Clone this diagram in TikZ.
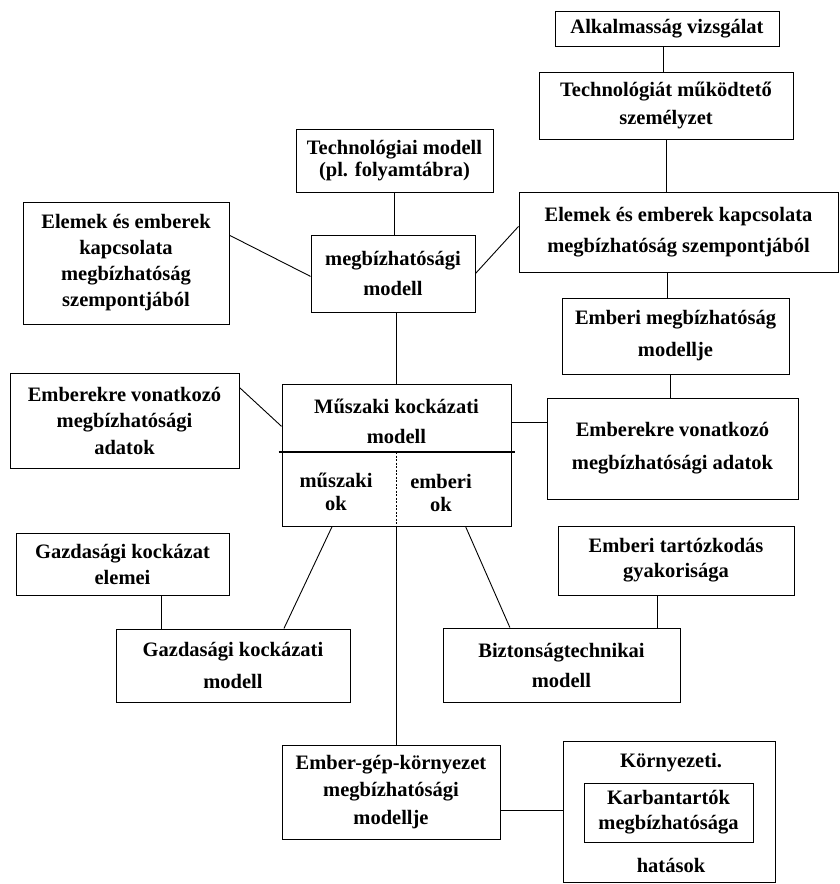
\documentclass[tikz,border=0pt]{standalone}
\usepackage{fontspec}
\setmainfont{Liberation Serif}
\usetikzlibrary{calc}

\tikzset{
    doboz/.style={draw, line width=1pt, inner sep=0pt, align=center,
        font=\bfseries\fontsize{20.5}{28}\selectfont},
    sorkoz/.style={font=\bfseries\fontsize{20.5}{#1}\selectfont},
    felirat/.style={inner sep=0pt, align=center},
    vonal/.style={line width=0.9pt}
}

\begin{document}
\begin{tikzpicture}[x=1pt,y=-1pt]
        \useasboundingbox (0,0) rectangle (840,884);

        % Upper boxes
        \node[doboz, minimum width=224, minimum height=35] (alk) at (667,28.5) {Alkalmasság vizsgálat};
        \node[doboz, minimum width=254, minimum height=67] (szem) at (666,105.5) {Technológiát működtető\\személyzet};
        \node[doboz, sorkoz=22, minimum width=197, minimum height=63] (techmod) at (394.5,160.5) {Technológiai modell\\(pl. folyamtábra)};
        \node[doboz, sorkoz=26, minimum width=206, minimum height=122] (elembal) at (126,263) {Elemek és emberek\\kapcsolata\\megbízhatóság\\szempontjából};
        \node[doboz, sorkoz=30, minimum width=164, minimum height=77] (megb) at (393,273.5) {megbízhatósági\\modell};
        \node[doboz, sorkoz=31, minimum width=319, minimum height=80] (elemjobb) at (678.5,232) {Elemek és emberek kapcsolata\\megbízhatóság szempontjából};
        \node[doboz, sorkoz=32, minimum width=227, minimum height=76] (embmegb) at (675.5,336) {Emberi megbízhatóság\\modellje};

        % Middle boxes
        \node[doboz, sorkoz=26.5, minimum width=229, minimum height=95] (adatbal) at (124.5,420.5) {Emberekre vonatkozó\\megbízhatósági\\adatok};
        \node[doboz, sorkoz=33, minimum width=251, minimum height=101] (adatjobb) at (672.5,448.5) {Emberekre vonatkozó\\megbízhatósági adatok};
        \node[doboz, minimum width=229, minimum height=142] (musz) at (396.5,455) {};
        \node[felirat, sorkoz=30] (musztxt) at (396.5,421) {Műszaki kockázati\\modell};
        \node[felirat, sorkoz=23] (muszok) at (336,491.5) {műszaki\\ok};
        \node[felirat, sorkoz=23] (emberok) at (441,492.5) {emberi\\ok};

        % Split of the risk model box
        \draw[line width=2.5pt] ($(musz.west)+(-3,-3)$) -- ($(musz.east)+(3,-3)$);
        \draw[line width=0.6pt, dash pattern=on 2pt off 1.5pt] ($(musz.center)+(0,-3)$) -- (musz.south);

        % Lower boxes
        \node[doboz, sorkoz=26, minimum width=213, minimum height=62] (gazdelem) at (122.5,564) {Gazdasági kockázat\\elemei};
        \node[doboz, sorkoz=32, minimum width=234, minimum height=73] (gazdmod) at (233,665.5) {Gazdasági kockázati\\modell};
        \node[doboz, sorkoz=25, minimum width=236, minimum height=69] (tart) at (676,560.5) {Emberi tartózkodás\\gyakorisága};
        \node[doboz, sorkoz=30, minimum width=237, minimum height=74] (bizt) at (561.5,665) {Biztonságtechnikai\\modell};
        \node[doboz, sorkoz=27.5, minimum width=218, minimum height=94] (gep) at (391,792) {Ember-gép-környezet\\megbízhatósági\\modellje};

        % Environment box with the inner box
        \node[doboz, minimum width=212, minimum height=141] (korny) at (669,811.5) {};
        \node[doboz, sorkoz=25, minimum width=169, minimum height=59] (karb) at (668.5,812.5) {Karbantartók\\megbízhatósága};
        \node[felirat, sorkoz=28] (kornytxt) at (671,763) {Környezeti.};
        \node[felirat, sorkoz=28] (hatasok) at (671,865) {hatások};

        % Connectors
        \draw[vonal] ([xshift=-4]alk.south) -- ([xshift=-4]alk.south |- szem.north);
        \draw[vonal] (szem.south) -- (szem.south |- elemjobb.north);
        \draw[vonal] ([xshift=-8.5]embmegb.north) -- ([xshift=-8.5]embmegb.north |- elemjobb.south);
        \draw[vonal] ([xshift=-2.5]adatjobb.north) -- ([xshift=-2.5]adatjobb.north |- embmegb.south);
        \draw[vonal] (techmod.south) -- (techmod.south |- megb.north);
        \draw[vonal] (elembal.15) -- (megb.182);
        \draw[vonal] (megb.east) -- (elemjobb.178);
        \draw[vonal] (musz.north) -- (musz.north |- megb.south);
        \draw[vonal] (adatbal.16) -- (musz.166);
        \draw[vonal] (musz.16) -- (musz.16 -| adatjobb.west);
        \draw[vonal] (musz.228) -- (gazdmod.36);
        \draw[vonal] (musz.-46) -- (bizt.144);
        \draw[vonal] (musz.south) -- (musz.south |- gep.north);
        \draw[vonal] ([xshift=38.5]gazdelem.south) -- ([xshift=38.5]gazdelem.south |- gazdmod.north);
        \draw[vonal] ([xshift=-19]tart.south) -- ([xshift=-19]tart.south |- bizt.north);
        \draw[vonal] ([yshift=-18]gep.east) -- ([yshift=-18]gep.east -| korny.west);
    \end{tikzpicture}
\end{document}
